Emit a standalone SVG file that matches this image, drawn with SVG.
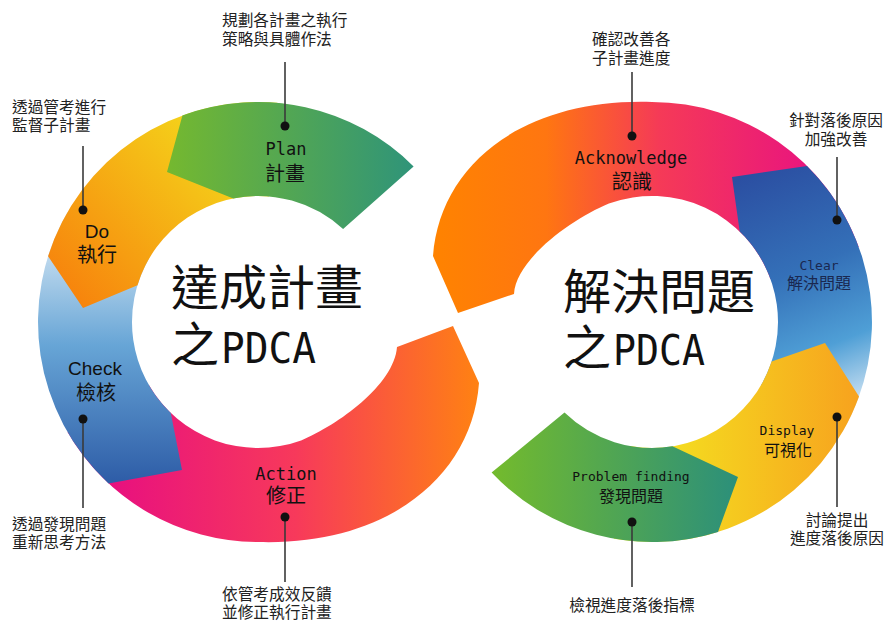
<svg xmlns="http://www.w3.org/2000/svg" width="885" height="623" viewBox="0 0 885 623">
  <defs>
    <linearGradient id="gPlan" gradientUnits="userSpaceOnUse" x1="170" y1="0" x2="413" y2="0">
      <stop offset="0" stop-color="#74b830"/><stop offset="1" stop-color="#2f9479"/>
    </linearGradient>
    <linearGradient id="gDo" gradientUnits="userSpaceOnUse" x1="60" y1="300" x2="240" y2="130">
      <stop offset="0" stop-color="#f7800c"/><stop offset="1" stop-color="#f4dc1c"/>
    </linearGradient>
    <linearGradient id="gCheck" gradientUnits="userSpaceOnUse" x1="0" y1="235" x2="0" y2="480">
      <stop offset="0" stop-color="#d2e5f3"/><stop offset="0.45" stop-color="#67a5d6"/><stop offset="1" stop-color="#2f5ea8"/>
    </linearGradient>
    <linearGradient id="gAction" gradientUnits="userSpaceOnUse" x1="110" y1="0" x2="480" y2="0">
      <stop offset="0" stop-color="#e8107f"/><stop offset="0.5" stop-color="#f7395b"/><stop offset="1" stop-color="#ff8212"/>
    </linearGradient>
    <linearGradient id="gAck" gradientUnits="userSpaceOnUse" x1="433" y1="0" x2="810" y2="0">
      <stop offset="0" stop-color="#ff8300"/><stop offset="0.3" stop-color="#ff7611"/><stop offset="0.6" stop-color="#f53a57"/><stop offset="1" stop-color="#e9157e"/>
    </linearGradient>
    <linearGradient id="gClear" gradientUnits="userSpaceOnUse" x1="760" y1="170" x2="860" y2="420">
      <stop offset="0" stop-color="#2b4fa2"/><stop offset="0.4" stop-color="#3470b8"/><stop offset="0.7" stop-color="#4f9fd6"/><stop offset="1" stop-color="#eef4fa"/>
    </linearGradient>
    <linearGradient id="gDisplay" gradientUnits="userSpaceOnUse" x1="620" y1="0" x2="860" y2="0">
      <stop offset="0" stop-color="#f4ec20"/><stop offset="1" stop-color="#f7a21e"/>
    </linearGradient>
    <linearGradient id="gPF" gradientUnits="userSpaceOnUse" x1="490" y1="0" x2="740" y2="0">
      <stop offset="0" stop-color="#74bb2c"/><stop offset="1" stop-color="#2b8f7b"/>
    </linearGradient>
  </defs>
  <style>
    .cjk { font-family: "Noto Sans CJK TC", sans-serif; fill: #111; }
    .mono { font-family: "DejaVu Sans Mono", "Noto Sans CJK TC", monospace; fill: #111; }
    .sans { font-family: "Liberation Sans", "Noto Sans CJK TC", sans-serif; fill: #111; }
    .mid { text-anchor: middle; }
    .note { font-family: "Noto Sans CJK TC", sans-serif; font-size: 15.7px; fill: #222; }
    .title { font-family: "Noto Sans CJK TC", sans-serif; font-size: 48px; fill: #111; }
    .pdca { font-family: "DejaVu Sans Mono", monospace; font-size: 42px; fill: #111; }
    .lead { stroke: #3a3a3a; stroke-width: 1.6; fill: none; }
    .dot { fill: #111; }
  </style>
  <rect width="885" height="623" fill="#ffffff"/>

  <!-- Left ring: 達成計畫之PDCA -->
  <g id="seg-action">
    <path fill="url(#gAction)" d="M67.5,432 A220,220 0 0 0 258,542 C385,546 472,478 479,383 L453,326 L397,347 C394,385 338,425 301.1,440.4 A126,126 0 0 1 148.9,385 Z"/>
    <text class="mono mid" x="286" y="480" font-size="17">Action</text>
    <text class="cjk mid" x="286" y="503" font-size="20">修正</text>
  </g>
  <g id="seg-check">
    <path fill="url(#gCheck)" d="M67.5,212 A220,220 0 0 0 108.5,483.4 L182,470 L170.8,413 A126,126 0 0 1 148.9,259 Z"/>
    <text class="sans mid" x="95" y="375" font-size="19">Check</text>
    <text class="cjk mid" x="96" y="400" font-size="20">檢核</text>
  </g>
  <g id="seg-do">
    <path fill="url(#gDo)" d="M277.2,102.8 A220,220 0 0 0 48.1,256.2 L83,308 L137.5,285.2 A126,126 0 0 1 269,196.5 Z"/>
    <text class="sans mid" x="97" y="238" font-size="19">Do</text>
    <text class="cjk mid" x="97" y="262" font-size="20">執行</text>
  </g>
  <g id="seg-plan">
    <path fill="url(#gPlan)" d="M413.6,166.4 A220,220 0 0 0 182.4,115.4 L167,172 L233.3,198.4 A126,126 0 0 1 343.1,229.1 Z"/>
    <text class="mono mid" x="286" y="155" font-size="17">Plan</text>
    <text class="cjk mid" x="285" y="181" font-size="20">計畫</text>
  </g>
  <g id="title-left">
    <text class="title" x="171" y="305">達成計畫</text>
    <text class="title" x="171" y="362">之</text>
    <text class="pdca" x="221" y="363" textLength="95" lengthAdjust="spacingAndGlyphs">PDCA</text>
  </g>

  <!-- Right ring: 解決問題之PDCA -->
  <g id="seg-acknowledge">
    <path fill="url(#gAck)" d="M858.7,246.8 A220,220 0 0 0 652,102 C525,98 440,163 433,256 L458,313 L514,294 C516,259 572,219 608.9,203.6 A126,126 0 0 1 770.4,278.9 Z"/>
    <text class="mono mid" x="631" y="164" font-size="17">Acknowledge</text>
    <text class="cjk mid" x="632" y="189" font-size="20">認識</text>
  </g>
  <g id="seg-clear">
    <path fill="url(#gClear)" d="M842.5,432 A220,220 0 0 0 807,165.9 L732,177 L739.7,231.5 A126,126 0 0 1 761.1,385 Z"/>
    <text class="mono mid" x="819" y="270" font-size="13" style="fill:#1a2850">Clear</text>
    <text class="cjk mid" x="819" y="289" font-size="16" style="fill:#1a2850">解決問題</text>
  </g>
  <g id="seg-display">
    <path fill="url(#gDisplay)" d="M613.8,538.7 A220,220 0 0 0 859,396.4 L825,343 L771.6,361.6 A126,126 0 0 1 630.1,446.1 Z"/>
    <text class="mono mid" x="787" y="435" font-size="13">Display</text>
    <text class="cjk mid" x="788" y="456" font-size="16">可視化</text>
  </g>
  <g id="seg-problem-finding">
    <path fill="url(#gPF)" d="M491.6,472.6 A220,220 0 0 0 718,531.9 L738,477 L672.4,446.3 A126,126 0 0 1 564.5,412.6 Z"/>
    <text class="mono mid" x="631" y="481" font-size="13">Problem finding</text>
    <text class="cjk mid" x="631" y="502" font-size="16">發現問題</text>
  </g>
  <g id="title-right">
    <text class="title" x="563" y="309">解決問題</text>
    <text class="title" x="563" y="365">之</text>
    <text class="pdca" x="613" y="365" textLength="92" lengthAdjust="spacingAndGlyphs">PDCA</text>
  </g>

  <!-- Callout connectors -->
  <g id="connectors">
    <line class="lead" x1="285" y1="62" x2="285" y2="126"/>
    <circle class="dot" cx="285" cy="126" r="4.5"/>
    <line class="lead" x1="83" y1="146" x2="83" y2="210"/>
    <circle class="dot" cx="83" cy="210" r="4.5"/>
    <line class="lead" x1="83" y1="419" x2="83" y2="508"/>
    <circle class="dot" cx="83" cy="419" r="4.5"/>
    <line class="lead" x1="285" y1="517" x2="285" y2="582"/>
    <circle class="dot" cx="285" cy="517" r="4.5"/>
    <line class="lead" x1="632" y1="72" x2="632" y2="136"/>
    <circle class="dot" cx="632" cy="136" r="4.5"/>
    <line class="lead" x1="837" y1="157" x2="837" y2="220"/>
    <circle class="dot" cx="837" cy="220" r="4.5"/>
    <line class="lead" x1="837" y1="417" x2="837" y2="507"/>
    <circle class="dot" cx="837" cy="417" r="4.5"/>
    <line class="lead" x1="632" y1="522" x2="632" y2="587"/>
    <circle class="dot" cx="632" cy="522" r="4.5"/>
  </g>

  <!-- Callout notes -->
  <g id="note-plan">
    <text class="note" x="222" y="26">規劃各計畫之執行<tspan x="222" dy="19">策略與具體作法</tspan></text>
  </g>
  <g id="note-do">
    <text class="note" x="12" y="113">透過管考進行<tspan x="12" dy="18">監督子計畫</tspan></text>
  </g>
  <g id="note-check">
    <text class="note" x="12" y="530">透過發現問題<tspan x="12" dy="18">重新思考方法</tspan></text>
  </g>
  <g id="note-action">
    <text class="note" x="222" y="600">依管考成效反饋<tspan x="222" dy="18">並修正執行計畫</tspan></text>
  </g>
  <g id="note-acknowledge">
    <text class="note" x="592" y="45">確認改善各<tspan x="592" dy="19">子計畫進度</tspan></text>
  </g>
  <g id="note-clear">
    <text class="note mid" x="836" y="126">針對落後原因<tspan x="836" dy="19">加強改善</tspan></text>
  </g>
  <g id="note-display">
    <text class="note mid" x="837" y="526">討論提出<tspan x="837" dy="18">進度落後原因</tspan></text>
  </g>
  <g id="note-problem-finding">
    <text class="note mid" x="632" y="611">檢視進度落後指標</text>
  </g>
</svg>
